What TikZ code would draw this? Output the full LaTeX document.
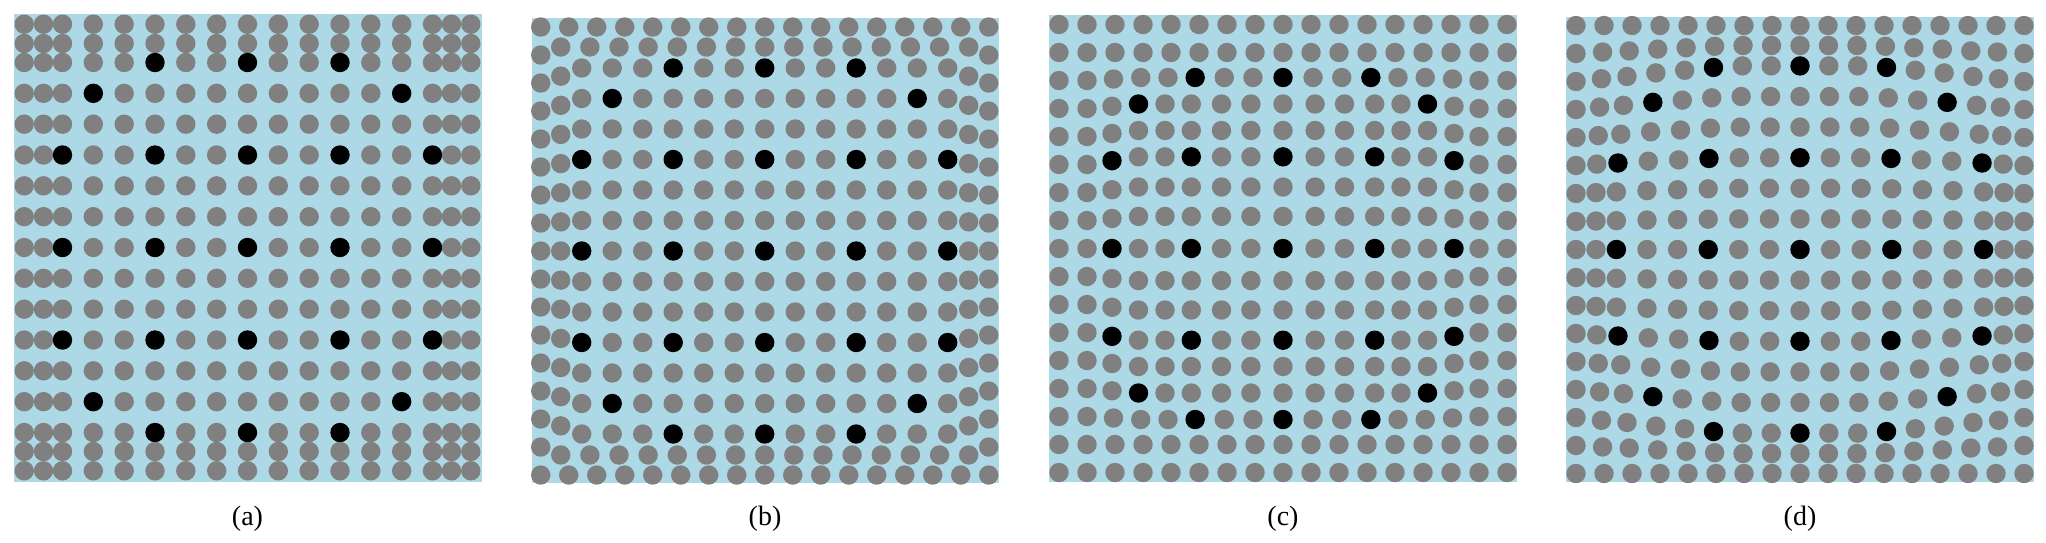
\documentclass[tikz,border=0pt]{standalone}
\usepackage{fontspec}
\setmainfont{Liberation Serif}
\definecolor{bgblue}{RGB}{173,216,230}
\definecolor{dotgray}{RGB}{128,128,128}
\newcommand\blacktest[2]{%
  \pgfmathtruncatemacro\blk{(mod(#1,3)==0)*(mod(#2,3)==0)*(#1<7)*(#2<7)*(#1+#2<12)+(#1==5)*(#2==5)}}
\newcommand\putdot[3]{%
  \ifnum#3>0 \fill[blackdot] (#1,#2) circle[radius=9.7pt];\else\fill[graydot] (#1,#2) circle[radius=9.7pt];\fi}
\tikzset{
  blackdot/.style={fill=black},
  graydot/.style={fill=dotgray},
  panelbg/.style={fill=bgblue},
  lbl/.style={anchor=base, inner sep=0pt, font=\fontsize{28}{34}\selectfont}
}
\begin{document}
\begin{tikzpicture}[x=1pt,y=-1pt]
\useasboundingbox (0,0) rectangle (2046,542);
\fill[white] (0,0) rectangle (2046,542);
\fill[panelbg] (14,14) rectangle (482,482);
\fill[panelbg] (532,18) rectangle (999,483);
\fill[panelbg] (1049,15) rectangle (1517,482);
\fill[panelbg] (1566,17) rectangle (2034,482);
% panel (a)
\def\Aa{{0,30.83,61.67,92.5,123.33,154.17,185,204,223.3}}
\foreach \i in {-8,...,8}{\foreach \j in {-8,...,8}{
  \pgfmathtruncatemacro\ia{abs(\i)}
  \pgfmathtruncatemacro\jb{abs(\j)}
  \pgfmathsetmacro\px{247.5+sign(\i)*\Aa[\ia]}
  \pgfmathsetmacro\py{247.5+sign(\j)*\Aa[\jb]}
  \blacktest{\ia}{\jb}
  \putdot{\px}{\py}{\blk}
}}
% panel (b)
\foreach \i in {-8,...,8}{\foreach \j in {-8,...,8}{
  \pgfmathtruncatemacro\ia{abs(\i)}
  \pgfmathtruncatemacro\jb{abs(\j)}
  \pgfmathtruncatemacro\mm{max(\ia,\jb)}
  \pgfmathsetmacro\ss{(\mm<7)*30.5+(\mm==7)*29.14+(\mm==8)*28}
  \pgfmathsetmacro\px{764.7+\i*\ss}
  \pgfmathsetmacro\py{251+\j*\ss}
  \blacktest{\ia}{\jb}
  \putdot{\px}{\py}{\blk}
}}
% panel (c)
\def\Hc{{0,32.1,61.5,91.7,118,144.5,171,196,224}}
\def\Wc{{0,0,0,0,0,0,0.5,1,1}}
\foreach \i in {-8,...,8}{\foreach \j in {-8,...,8}{
  \pgfmathtruncatemacro\ia{abs(\i)}
  \pgfmathtruncatemacro\jb{abs(\j)}
  \pgfmathsetmacro\px{1283+sign(\i)*((1-\Wc[\jb])*\Hc[\ia]+\Wc[\jb]*28*\ia)}
  \pgfmathsetmacro\py{248.5+sign(\j)*((1-\Wc[\ia])*\Hc[\jb]+\Wc[\ia]*28*\jb)}
  \blacktest{\ia}{\jb}
  \putdot{\px}{\py}{\blk}
}}
% panel (d)
\def\Ad{{0,30.6,61.2,91.8,122.4,153,183.6,204,224}}
\def\Wd{{0,0,0,0.1,0.28,0.45,0.68,0.82,1}}
\foreach \i in {-8,...,8}{\foreach \j in {-8,...,8}{
  \pgfmathtruncatemacro\ia{abs(\i)}
  \pgfmathtruncatemacro\jb{abs(\j)}
  \pgfmathsetmacro\px{1800+sign(\i)*((1-\Wd[\jb])*\Ad[\ia]+\Wd[\jb]*28*\ia)}
  \pgfmathsetmacro\py{249.5+sign(\j)*((1-\Wd[\ia])*\Ad[\jb]+\Wd[\ia]*28*\jb)}
  \blacktest{\ia}{\jb}
  \putdot{\px}{\py}{\blk}
}}
\node[lbl] (la) at (247.5,525) {(a)};
\node[lbl] (lb) at (765,525) {(b)};
\node[lbl] (lc) at (1283,525) {(c)};
\node[lbl] (ld) at (1800,525) {(d)};
\end{tikzpicture}
\end{document}
